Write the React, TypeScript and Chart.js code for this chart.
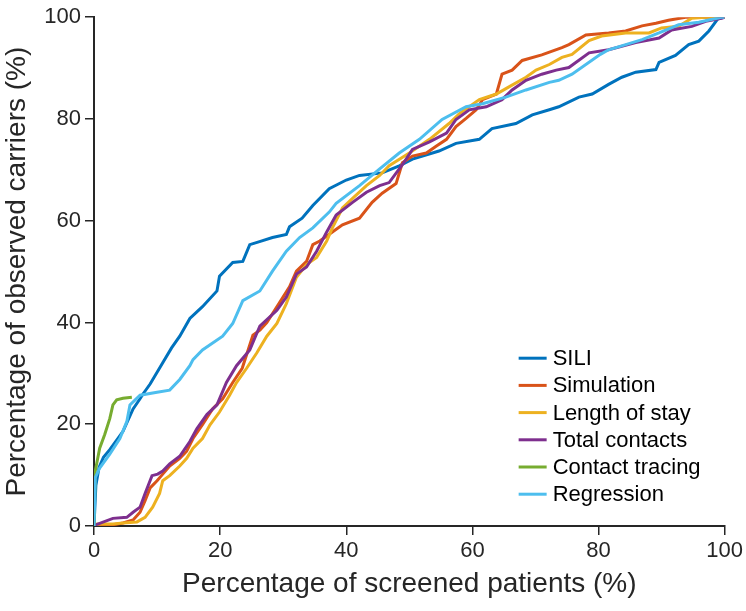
import React, { useEffect, useRef } from "react";
import { Chart, registerables } from "chart.js";

Chart.register(...registerables);

const seriesNames = ["SILI", "Simulation", "Length of stay", "Total contacts", "Contact tracing", "Regression"];
const seriesColors = ["#0072BD", "#D95319", "#EDB120", "#7E2F8E", "#77AC30", "#4DBEEE"];

const xTickValues = [0, 20, 40, 60, 80, 100];
const yTickValues = [0, 20, 40, 60, 80, 100];

const siliX = [0, 0.3, 0.8, 1.5, 2.5, 3.8, 4.6, 6.2, 7.3, 7.8, 8.9, 10.9, 12.3, 13.6, 15.2, 17.2, 19.5, 19.9, 22, 23.6, 24.7, 26.5, 28.3, 30.5, 31, 33, 34.7, 37.3, 40, 42.1, 45.7, 48.4, 50.5, 54.7, 57.4, 61.1, 63.1, 66.9, 69.5, 72.2, 73.7, 76.9, 79, 81.6, 83.7, 85.9, 89.1, 89.6, 92.2, 94.3, 95.9, 97.5, 99, 100];
const siliY = [0, 8, 11.5, 13.5, 15, 17.2, 18.6, 23, 25, 26, 27.9, 32.1, 35, 37.3, 40.8, 43.1, 46.2, 49.1, 51.8, 52, 55.3, 56, 56.7, 57.3, 58.8, 60.5, 63, 66.3, 68, 68.9, 69.4, 70.8, 72.1, 73.7, 75.2, 76, 78.1, 79.1, 80.8, 81.8, 82.4, 84.3, 84.9, 86.8, 88.2, 89.2, 89.7, 91.1, 92.5, 94.6, 95.3, 97.3, 99.8, 100];

const simX = [0, 2, 4.6, 6.2, 7.3, 8.1, 8.9, 10, 10.9, 12, 13.6, 14.7, 15.7, 17.2, 18.8, 20.4, 22, 23.5, 25.2, 26.3, 27.4, 29, 31, 32.1, 33.7, 34.7, 35.8, 37.8, 39.4, 42.1, 44.1, 45.7, 47.9, 48.9, 50.5, 52.7, 54.3, 55.9, 57.4, 59, 60.6, 61.6, 63.8, 64.7, 66.3, 67.9, 71, 74.2, 75.3, 78, 81.6, 84.3, 86.9, 89.1, 91.1, 93.8, 100];
const simY = [0, 0, 0.6, 1.2, 2.7, 5, 7.5, 8.9, 10.2, 11.8, 13.3, 14.7, 17.2, 19.9, 23, 25, 28.2, 31, 37.5, 38.5, 40, 43.1, 47, 50.1, 52, 55.3, 56, 57.8, 59.2, 60.5, 63.6, 65.4, 67.3, 71.4, 72.7, 73.3, 74.7, 76, 78.5, 80.1, 81.8, 83.8, 84.9, 88.8, 89.6, 91.5, 92.6, 94, 94.6, 96.5, 96.9, 97.3, 98.3, 98.8, 99.4, 100, 100];

const losX = [0, 0.5, 3, 4.6, 6.8, 8.1, 9.3, 10.4, 10.9, 12, 13.6, 14.7, 15.7, 17.2, 18.4, 19.9, 21.5, 22.6, 24.2, 25.8, 27.4, 29, 30.5, 32.1, 33.7, 35.3, 36.9, 37.8, 39.4, 41, 43.2, 45.3, 46.8, 50, 53.2, 56.3, 57.9, 61.1, 63.8, 65.8, 68.5, 70.1, 72.2, 74.2, 75.8, 78.5, 80.5, 84.3, 88, 90, 92.7, 94.8, 97, 100];
const losY = [0, 0.4, 0.4, 0.6, 0.8, 1.7, 3.7, 6.4, 8.9, 9.9, 11.8, 13.3, 15.3, 17.2, 19.9, 22.4, 25.7, 28.2, 31, 34, 37.3, 39.8, 43.7, 48.9, 51.4, 52.8, 56, 58.6, 62.5, 64.4, 66.9, 68.9, 70.8, 73.3, 76, 79.1, 81, 83.8, 84.9, 86.3, 88.2, 89.6, 90.7, 92.1, 92.7, 95.4, 96.3, 96.9, 96.9, 97.9, 98.2, 99.8, 100, 100];

const totX = [0, 0.2, 3, 5.2, 6.2, 7.3, 8.1, 9.2, 10.1, 10.9, 12, 13.6, 15.2, 16.3, 17.9, 19.5, 21, 22.6, 24.7, 26.3, 29, 30.5, 32.1, 33.7, 35.3, 36.9, 38.4, 41, 43.2, 45.3, 46.8, 48.9, 50.5, 53.2, 55.9, 57.4, 59.5, 62.2, 64.7, 66.3, 68.5, 71, 73.3, 75.3, 78.5, 81.6, 85.9, 89.6, 91.6, 94.8, 97, 99.5, 100];
const totY = [0, 0.2, 1.5, 1.7, 2.7, 3.7, 6.4, 9.9, 10.2, 10.8, 12.2, 13.7, 16.6, 19.1, 21.9, 23.8, 28.2, 31.5, 34.6, 39.3, 42.4, 45, 49.5, 50.9, 54, 57.8, 61.1, 63.6, 65.6, 66.9, 67.5, 71, 74, 75.5, 77.2, 79.9, 81.8, 82.4, 83.8, 85.7, 87.6, 88.8, 89.6, 90.1, 93, 93.6, 95, 95.9, 97.5, 98.2, 99.2, 99.8, 100];

const ctX = [0, 0.2, 0.9, 1.7, 2.5, 3, 3.6, 4.6, 6];
const ctY = [0, 10.8, 15.3, 18, 21.1, 23.8, 24.8, 25.1, 25.3];

const regX = [0, 0.2, 0.9, 2.5, 4.1, 5.2, 5.7, 7.3, 10, 12, 13.6, 15.2, 15.7, 17.2, 20.4, 22, 23.6, 26.3, 28.3, 30.5, 32.6, 34.7, 37.3, 38.4, 42.1, 45.3, 48.4, 51.6, 55.2, 59, 61.6, 65.3, 68.5, 72.2, 73.7, 75.8, 80.3, 81.6, 86.9, 89.6, 92.7, 95.9, 99.5, 100];
const regY = [0, 9.5, 11.4, 14.1, 17.2, 20.5, 23.8, 25.7, 26.3, 26.7, 28.8, 31.5, 32.7, 34.6, 37.3, 39.8, 44.3, 46.2, 50.1, 54, 56.7, 58.6, 61.7, 63.4, 66.9, 70.2, 73.3, 76, 79.9, 82.4, 83, 84.3, 85.7, 87.2, 87.6, 88.8, 92.7, 93.6, 95.6, 96.9, 98.5, 99, 100, 100];

const allX = [siliX, simX, losX, totX, ctX, regX];
const allY = [siliY, simY, losY, totY, ctY, regY];

const FONT = "'Liberation Sans', Arial, Helvetica, sans-serif";
const AXIS_COLOR = "#262626";

const legendPlugin = {
  id: "innerLegend",
  afterDraw(chart: any) {
    const { ctx, chartArea } = chart;
    const x0 = chartArea.right - 206;
    const y0 = chartArea.top + 341;
    const step = 27.2;
    ctx.save();
    chart.data.datasets.forEach((ds: any, i: number) => {
      const y = y0 + i * step;
      ctx.strokeStyle = ds.borderColor;
      ctx.lineWidth = 3;
      ctx.beginPath();
      ctx.moveTo(x0, y);
      ctx.lineTo(x0 + 28, y);
      ctx.stroke();
      ctx.fillStyle = "#000000";
      ctx.font = `22px ${FONT}`;
      ctx.textBaseline = "middle";
      ctx.textAlign = "left";
      ctx.fillText(ds.label, x0 + 34, y + 1);
    });
    ctx.restore();
  },
};

export default function App() {
  const canvasRef = useRef<HTMLCanvasElement | null>(null);

  useEffect(() => {
    document.body.style.margin = "0";
    const canvas = canvasRef.current;
    if (!canvas) return;
    const datasets = seriesNames.map((name, i) => ({
      label: name,
      data: allX[i].map((x, j) => ({ x, y: allY[i][j] })),
      borderColor: seriesColors[i],
      backgroundColor: seriesColors[i],
      borderWidth: 3,
      pointRadius: 0,
      tension: 0,
      fill: false,
      order: seriesNames.length - i,
    }));
    const chart = new Chart(canvas, {
      type: "line",
      data: { datasets },
      plugins: [legendPlugin],
      options: {
        responsive: false,
        animation: false,
        maintainAspectRatio: false,
        layout: { padding: { top: 9, right: 20, left: 0, bottom: 0 } },
        plugins: { legend: { display: false }, tooltip: { enabled: false } },
        scales: {
          x: {
            type: "linear",
            min: 0,
            max: 100,
            afterBuildTicks: (s: any) => {
              s.ticks = xTickValues.map((v) => ({ value: v }));
            },
            afterFit: (s: any) => {
              s.height = 85;
            },
            ticks: { font: { size: 22, family: FONT }, color: AXIS_COLOR, padding: 3, maxRotation: 0 },
            grid: { drawOnChartArea: false, drawTicks: true, tickLength: 9, color: AXIS_COLOR, lineWidth: 1.5 },
            border: { display: true, color: AXIS_COLOR, width: 2 },
            title: {
              display: true,
              text: "Percentage of screened patients (%)",
              font: { size: 28, family: FONT },
              color: AXIS_COLOR,
              padding: { top: 0, bottom: 10 },
            },
          },
          y: {
            type: "linear",
            min: 0,
            max: 100,
            afterBuildTicks: (s: any) => {
              s.ticks = yTickValues.map((v) => ({ value: v }));
            },
            afterFit: (s: any) => {
              s.width = 94;
            },
            ticks: { font: { size: 22, family: FONT }, color: AXIS_COLOR, padding: 4 },
            grid: { drawOnChartArea: false, drawTicks: true, tickLength: 9, color: AXIS_COLOR, lineWidth: 1.5 },
            border: { display: true, color: AXIS_COLOR, width: 2 },
            title: {
              display: true,
              text: "Percentage of observed carriers (%)",
              font: { size: 28, family: FONT },
              color: AXIS_COLOR,
              padding: { top: 0, bottom: 0 },
            },
          },
        },
      },
    });
    return () => chart.destroy();
  }, []);

  return (
    <div style={{ position: "fixed", left: 0, top: 0, width: 746, height: 611, background: "#fff" }}>
      <canvas ref={canvasRef} width={746} height={611} style={{ display: "block", width: 746, height: 611 }} />
    </div>
  );
}
